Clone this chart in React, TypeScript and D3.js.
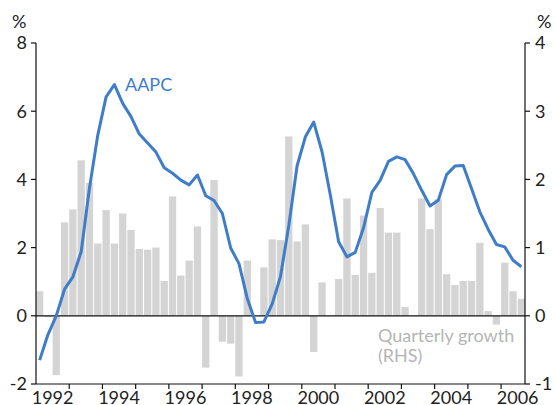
import React from 'react';
import * as d3 from 'd3';

const YEARS = [1992, 1993, 1994, 1995, 1996, 1997, 1998, 1999, 2000, 2001, 2002, 2003, 2004, 2005, 2006];
const QUARTERS = YEARS.flatMap(y => ['Q1', 'Q2', 'Q3', 'Q4'].map(q => `${y}${q}`)).slice(0, 59);

// quarterly growth, right-hand scale
const GROWTH = [
  0.36, -0.02, -0.87, 1.37,
  1.56, 2.28, 1.95, 1.06,
  1.55, 1.06, 1.50, 1.26,
  0.98, 0.97, 1.00, 0.51,
  1.75, 0.59, 0.81, 1.31,
  -0.76, 1.99, -0.38, -0.41,
  -0.89, 0.81, 0.0, 0.71,
  1.12, 1.11, 2.63, 1.09,
  1.34, -0.53, 0.49, 0.0,
  0.54, 1.72, 0.60, 1.47,
  0.63, 1.58, 1.22, 1.22,
  0.13, 0.0, 1.72, 1.27,
  1.71, 0.61, 0.45, 0.51,
  0.51, 1.07, 0.07, -0.13,
  0.78, 0.36, 0.25,
];

// annual average percentage change, left-hand scale
const AAPC = [
  -1.30, -0.55, 0.0, 0.78,
  1.14, 1.88, 3.75, 5.30,
  6.42, 6.78, 6.23, 5.84,
  5.33, 5.07, 4.80, 4.34,
  4.18, 3.98, 3.84, 4.13,
  3.52, 3.38, 3.00, 1.99,
  1.53, 0.51, -0.20, -0.18,
  0.35, 1.15, 2.65, 4.40,
  5.25, 5.68, 4.81, 3.54,
  2.17, 1.73, 1.86, 2.58,
  3.62, 3.97, 4.53, 4.66,
  4.58, 4.17, 3.68, 3.22,
  3.39, 4.14, 4.39, 4.41,
  3.73, 3.05, 2.54, 2.09,
  2.02, 1.63, 1.44,
];

const LEFT_TICKS = [-2, 0, 2, 4, 6, 8];
const RIGHT_TICKS = [-1, 0, 1, 2, 3, 4];
const YEAR_LABELS = [1992, 1994, 1996, 1998, 2000, 2002, 2004, 2006];

const W = 556;
const H = 405;
const left = 36;
const right = 525;
const top = 43;
const bottom = 384;
const font = 'Lato, "Open Sans", sans-serif';

export default function App() {
  const x = d3.scaleBand().domain(QUARTERS).range([left, right]).paddingInner(0.12).paddingOuter(0);
  const yL = d3.scaleLinear().domain([-2, 8]).range([bottom, top]);
  const yR = d3.scaleLinear().domain([-1, 4]).range([bottom, top]);
  const step = x.step();
  const xc = (i) => x(QUARTERS[i]) + x.bandwidth() / 2;

  const line = d3.line()
    .x((d, i) => xc(i))
    .y(d => yL(d));

  // a tick at every year boundary
  const yearTicks = d3.range(1, 15).map(k => left + k * 4 * step);

  return (
    <svg width={W} height={H} style={{ position: 'absolute', left: 0, top: 0 }} fontFamily={font}>
      <rect width={W} height={H} fill="#fff" />
      {GROWTH.map((v, i) => (
        <rect
          key={'b' + i}
          x={x(QUARTERS[i])}
          width={x.bandwidth()}
          y={Math.min(yR(v), yR(0))}
          height={Math.abs(yR(v) - yR(0))}
          fill="#d4d4d4"
        />
      ))}
      <line x1={left} x2={right} y1={yL(0)} y2={yL(0)} stroke="#111" strokeWidth={1.2} />
      <path d={line(AAPC)} fill="none" stroke="#3f7dc8" strokeWidth={3} strokeLinejoin="round" />

      {/* axes */}
      <line x1={left} x2={left} y1={top} y2={bottom} stroke="#111" strokeWidth={1.2} />
      <line x1={right} x2={right} y1={top} y2={bottom} stroke="#111" strokeWidth={1.2} />
      <line x1={left} x2={right} y1={bottom} y2={bottom} stroke="#111" strokeWidth={1.2} />
      {LEFT_TICKS.map(t => (
        <g key={'l' + t}>
          <line x1={left - 5} x2={left} y1={yL(t)} y2={yL(t)} stroke="#111" strokeWidth={1.2} />
          <text x={27} y={yL(t)} dy="0.36em" textAnchor="end" fontSize={18} fill="#222">{t}</text>
        </g>
      ))}
      {RIGHT_TICKS.map(t => (
        <g key={'r' + t}>
          <line x1={right} x2={right + 5} y1={yR(t)} y2={yR(t)} stroke="#111" strokeWidth={1.2} />
          <text x={535} y={yR(t)} dy="0.36em" textAnchor="start" fontSize={18} fill="#222">{t}</text>
        </g>
      ))}
      {yearTicks.map((t, i) => (
        <line key={'t' + i} x1={t} x2={t} y1={bottom} y2={bottom + 5} stroke="#111" strokeWidth={1.2} />
      ))}
      {YEAR_LABELS.map((yr, i) => (
        <text key={'y' + yr} x={left + (i * 8 + 2) * step} y={404} textAnchor="middle" fontSize={18} fill="#222">
          {yr}
        </text>
      ))}
      <text x={12} y={28} fontSize={18} fill="#222">%</text>
      <text x={537} y={28} fontSize={18} fill="#222">%</text>

      <text x={125} y={91} fontSize={18} fill="#3f7dc8">AAPC</text>
      <text x={378} y={342} fontSize={18} fill="#b5b5b5">Quarterly growth</text>
      <text x={378} y={362} fontSize={18} fill="#b5b5b5">(RHS)</text>
    </svg>
  );
}
